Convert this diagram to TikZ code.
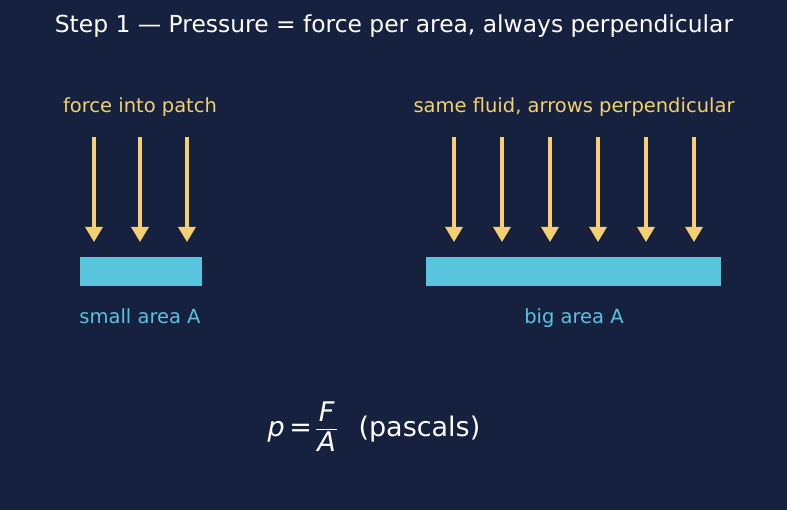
\documentclass[tikz,border=0pt]{standalone}
\usepackage{fontspec}
\setmainfont{DejaVu Sans}
\usetikzlibrary{arrows.meta}
\definecolor{bg}{RGB}{22,33,63}
\definecolor{bar}{RGB}{88,196,221}
\definecolor{gold}{RGB}{244,208,111}
\newcommand{\myfrac}[2]{\ensuremath{\vcenter{\offinterlineskip\halign{\hfil\kern1pt##\kern1pt\hfil\cr\strut\itshape #1\cr\noalign{\kern-2pt\hrule height 1.1pt\kern-1pt}\strut\itshape #2\cr}}}}
\tikzset{
  x=1pt,y=-1pt,
  force/.style={gold,line width=3.2pt,-{Triangle[width=17pt,length=15pt]}},
  patch/.style={fill=bar,draw=none},
  lbl/.style={text=gold,font=\fontsize{19.5}{23}\selectfont,anchor=base,inner sep=0pt},
  arealbl/.style={text=bar,font=\fontsize{19.5}{23}\selectfont,anchor=base,inner sep=0pt},
}
\begin{document}
\begin{tikzpicture}
\fill[bg] (0,0) rectangle (787,510);
\useasboundingbox (0,0) rectangle (787,510);
\node[text=white,font=\fontsize{23.4}{28}\selectfont,inner sep=0pt,anchor=base] (title) at (394,33) {Step 1 — Pressure = force per area, always perpendicular};
\node[lbl] (l1) at (140,113) {force into patch};
\node[lbl] (l2) at (574,113) {same fluid, arrows perpendicular};
\foreach \x [count=\i] in {94,140,187}{
  \coordinate (sa\i) at (\x,137);
  \coordinate (ea\i) at (\x,242);
  \draw[force] (sa\i) -- (ea\i);
}
\foreach \x [count=\i] in {454,502,550,598,646,694}{
  \coordinate (sb\i) at (\x,137);
  \coordinate (eb\i) at (\x,242);
  \draw[force] (sb\i) -- (eb\i);
}
\fill[patch] (80,257) rectangle (202,286);
\fill[patch] (426,257) rectangle (721,286);
\node[arealbl] (a1) at (140,324) {small area A};
\node[arealbl] (a2) at (574,324) {big area A};
\node[text=white,font=\fontsize{27}{32}\selectfont,inner sep=0pt,anchor=base] (f) at (374,436) {{\itshape p}\,=\,\myfrac{F}{A}\hspace{0.8em}(pascals)};
\end{tikzpicture}
\end{document}
